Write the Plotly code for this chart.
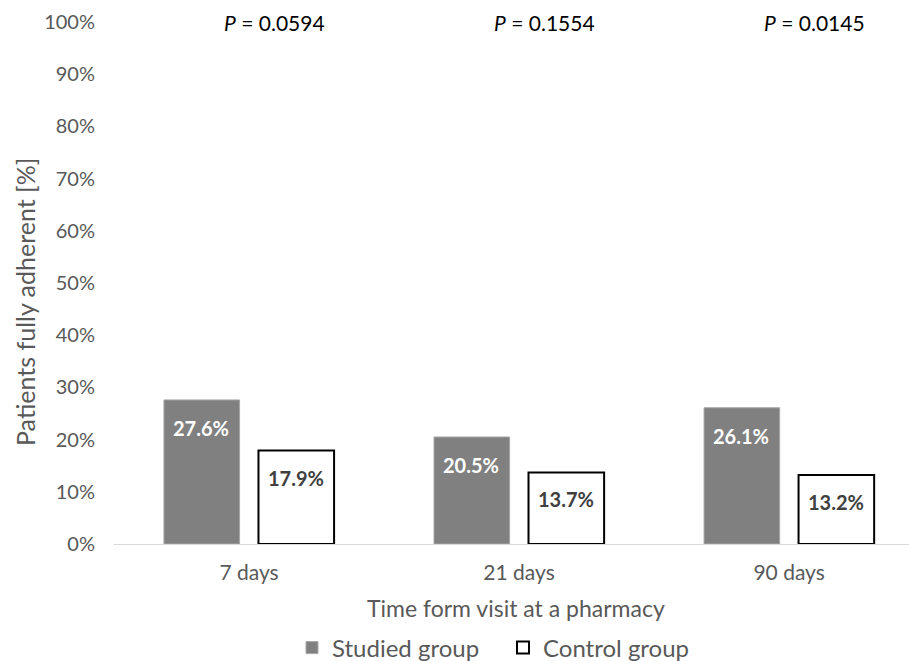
import plotly.graph_objects as go

categories = ["7 days", "21 days", "90 days"]
studied = [27.6, 20.5, 26.1]
control = [17.9, 13.7, 13.2]
p_values = ["0.0594", "0.1554", "0.0145"]
y_ticks = list(range(0, 101, 10))
y_tick_text = [f"{v}%" for v in y_ticks]

FONT = "Lato"
GRAY_TXT = "#595959"

fig = go.Figure()
fig.add_trace(go.Bar(
    x=categories, y=studied, name="Studied group",
    marker=dict(color="#808080", line=dict(color="#a6a6a6", width=1)),
))
fig.add_trace(go.Bar(
    x=categories, y=control, name="Control group",
    marker=dict(color="white", line=dict(color="black", width=2)),
))

annotations = []
for c, s, ctl, p in zip(categories, studied, control, p_values):
    annotations.append(dict(x=c, y=s, xref="x", yref="y", text=f"<b>{s:.1f}%</b>",
                            showarrow=False, xshift=-48, yshift=-28,
                            font=dict(family=FONT, size=20, color="white")))
    annotations.append(dict(x=c, y=ctl, xref="x", yref="y", text=f"<b>{ctl:.1f}%</b>",
                            showarrow=False, xshift=47, yshift=-27,
                            font=dict(family=FONT, size=20, color="#404040")))
    annotations.append(dict(x=c, y=100, xref="x", yref="y", text=f"<i>P</i> = {p}",
                            showarrow=False, xshift=25, yshift=0,
                            font=dict(family=FONT, size=21, color="black")))

# axis titles
annotations.append(dict(x=(25 - 114) / 795, y=(544 - 302) / 522, xref="paper", yref="paper",
                        text="Patients fully adherent [%]", textangle=-90, showarrow=False,
                        xanchor="center", yanchor="middle",
                        font=dict(family=FONT, size=25, color=GRAY_TXT)))
annotations.append(dict(x=(516 - 114) / 795, y=-(608 - 544) / 522, xref="paper", yref="paper",
                        text="Time form visit at a pharmacy", showarrow=False,
                        xanchor="center", yanchor="middle",
                        font=dict(family=FONT, size=23, color=GRAY_TXT)))

fig.update_layout(
    width=909, height=661,
    margin=dict(l=114, r=0, t=22, b=117, autoexpand=False),
    paper_bgcolor="white", plot_bgcolor="white",
    barmode="group", bargap=0.3, bargroupgap=0.2,
    font=dict(family=FONT, size=18, color=GRAY_TXT),
    annotations=annotations,
    showlegend=True,
    legend=dict(orientation="h", x=(292 - 114) / 795, xanchor="left",
                y=-(648 - 544) / 522, yanchor="middle",
                entrywidth=166, entrywidthmode="pixels",
                font=dict(family=FONT, size=24, color=GRAY_TXT)),
    xaxis=dict(
        range=[-0.5, 2.444], showline=True, linecolor="#d9d9d9", linewidth=1,
        ticks="", showgrid=False, automargin=False, ticklabelstandoff=10,
        tickfont=dict(size=21, color=GRAY_TXT),
    ),
    yaxis=dict(
        range=[0, 100], tickmode="array", tickvals=y_ticks, ticktext=y_tick_text,
        showgrid=False, zeroline=False, automargin=False,
        showline=False, ticks="", ticklabelstandoff=18,
        tickfont=dict(size=20, color=GRAY_TXT),
    ),
)

fig.write_html("out.html", config={"displayModeBar": False},
               post_script="document.body.style.margin='0';")
